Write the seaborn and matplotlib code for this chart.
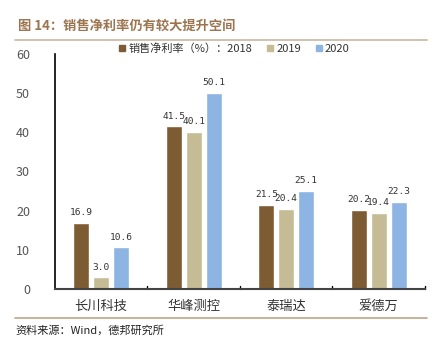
import matplotlib
matplotlib.use("Agg")
import matplotlib.pyplot as plt
import seaborn as sns
import pandas as pd
from matplotlib.lines import Line2D

companies = ["长川科技", "华峰测控", "泰瑞达", "爱德万"]
series_names = ["销售净利率（%）：2018", "2019", "2020"]
v2018 = [16.9, 41.5, 21.5, 20.2]
v2019 = [3.0, 40.1, 20.4, 19.4]
v2020 = [10.6, 50.1, 25.1, 22.3]
yticks = [0, 10, 20, 30, 40, 50, 60]
colors = ["#7E5C33", "#C5BB94", "#8DB4E2"]

rows = []
for name, vals in zip(series_names, [v2018, v2019, v2020]):
    for c, v in zip(companies, vals):
        rows.append({"公司": c, "系列": name, "值": v})
df = pd.DataFrame(rows)

sns.set_theme(style="white")
plt.rcParams["font.family"] = ["Noto Sans CJK SC", "DejaVu Sans"]

fig = plt.figure(figsize=(4.41, 3.52), dpi=100)
ax = fig.add_axes([0.1247, 0.179, 0.839, 0.668])

sns.barplot(data=df, x="公司", y="值", hue="系列", palette=colors,
            width=0.645, gap=0.2, ax=ax, legend=False, saturation=1)

for cont in ax.containers:
    ax.bar_label(cont, fmt="%.1f", padding=4, fontsize=6.8,
                 family="DejaVu Sans Mono", color="#333333")

ax.set_ylim(0, 60)
ax.set_yticks(yticks)
ax.set_xlim(-0.5, 3.5)
ax.set_xlabel("")
ax.set_ylabel("")
ax.tick_params(axis="y", direction="in", length=4, width=1, colors="black",
               labelcolor="#555555", labelsize=9, pad=18)
ax.set_xticks(range(len(companies)))
ax.set_xticklabels(companies)
ax.tick_params(axis="x", length=0, labelsize=9.5, labelcolor="#333333", pad=8)
for xb in [0.5, 1.5, 2.5, 3.5]:
    ax.plot([xb, xb], [0, 0.8], color="black", lw=1, clip_on=False)
for s in ["top", "right"]:
    ax.spines[s].set_visible(False)
ax.spines["left"].set_color("black")
ax.spines["left"].set_linewidth(1.2)
ax.spines["bottom"].set_color("#444444")
ax.spines["bottom"].set_linewidth(1.5)
for lab in ax.get_yticklabels():
    lab.set_horizontalalignment("right")

handles = [Line2D([0], [0], marker="s", linestyle="", markersize=5,
                  markerfacecolor=c, markeredgecolor=c) for c in colors]
fig.legend(handles, series_names, loc="center left", bbox_to_anchor=(0.245, 0.862),
           ncol=3, frameon=False, fontsize=8, handletextpad=0.15,
           columnspacing=1.2, handlelength=0.8, labelcolor="#333333")

fig.text(0.04, 0.928, "图 14：销售净利率仍有较大提升空间", fontsize=9.5,
         fontweight="bold", color="#9B7550", va="center")
fig.add_artist(Line2D([0.034, 0.968], [0.887, 0.887], color="#C8B8A2", lw=1.2))
fig.add_artist(Line2D([0.034, 0.968], [0.097, 0.097], color="#C0A488", lw=1.2))
fig.text(0.036, 0.06, "资料来源：Wind，德邦研究所", fontsize=8, color="#222222", va="center")

fig.savefig("out.png", dpi=100)
